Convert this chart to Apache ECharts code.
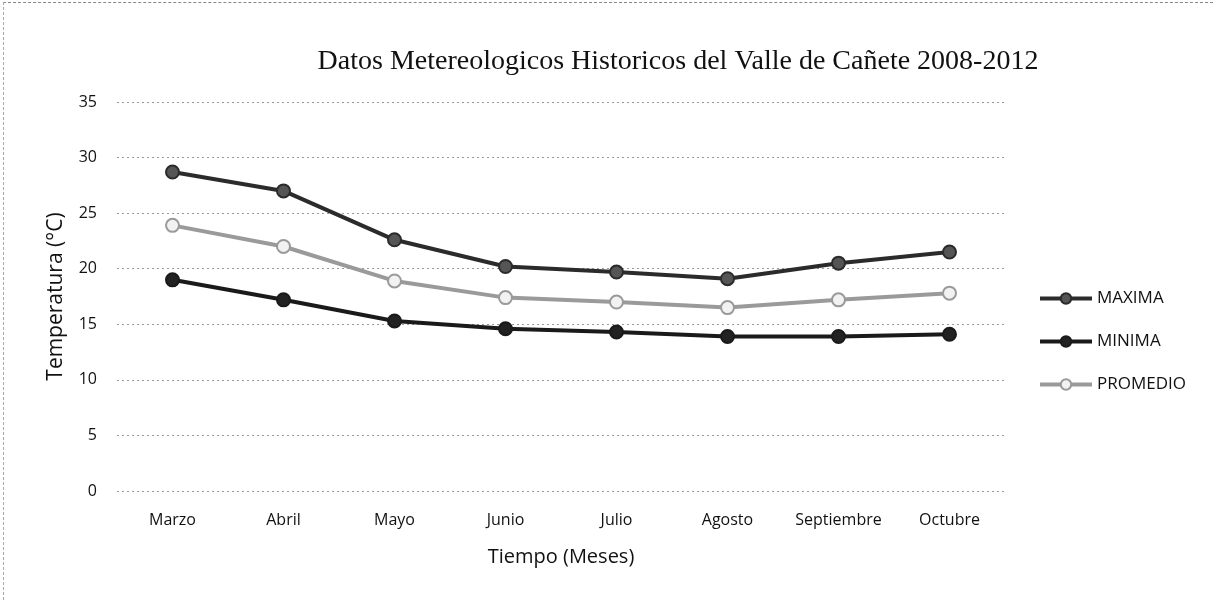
<!DOCTYPE html>
<html><head><meta charset="utf-8">
<script src="https://cdn.jsdelivr.net/npm/echarts@6/dist/echarts.min.js"></script>
<style>html,body{margin:0;padding:0;background:#fff}#c{position:absolute;left:3px;top:2px;width:1210px;height:598px;border-top:1px dashed #888;border-left:1px dashed #aaa;box-sizing:border-box}</style>
</head><body><div id="c"></div>
<script>
const months = ['Marzo','Abril','Mayo','Junio','Julio','Agosto','Septiembre','Octubre'];
const maxima = [28.7, 27.0, 22.6, 20.2, 19.7, 19.1, 20.5, 21.5];
const minima = [19.0, 17.2, 15.3, 14.6, 14.3, 13.9, 13.9, 14.1];
const promedio = [23.9, 22.0, 18.9, 17.4, 17.0, 16.5, 17.2, 17.8];
const seriesNames = ['MAXIMA','MINIMA','PROMEDIO'];
const title = 'Datos Metereologicos Historicos del Valle de Cañete 2008-2012';

const chart = echarts.init(document.getElementById('c'));
const font = 'Open Sans';
function mk(name, data, lineColor, fill){
  return {name, type:'line', data, symbol:'circle', symbolSize:13,
    lineStyle:{color:lineColor, width:4},
    itemStyle:{color:fill, borderColor:lineColor, borderWidth:2}};
}
chart.setOption({
  animation:false,
  title:{text:title, left:669, top:40, textAlign:'center',
    textStyle:{fontFamily:'Liberation Serif', fontSize:28, fontWeight:'normal', color:'#111'}},
  grid:{left:113, right:208, top:99, bottom:109},
  legend:{orient:'vertical', left:1034, top:287, padding:0, itemGap:26, itemWidth:52, itemHeight:13,
    data:seriesNames, lineStyle:{width:4},
    textStyle:{fontFamily:font, fontSize:17, color:'#111'}},
  xAxis:{type:'category', data:months, boundaryGap:true,
    name:'Tiempo (Meses)', nameLocation:'middle', nameGap:56,
    nameTextStyle:{fontFamily:font, fontSize:20, color:'#111'},
    axisLine:{show:false}, axisTick:{show:false},
    axisLabel:{interval:0, fontFamily:font, fontSize:16, color:'#111', margin:21}},
  yAxis:{type:'value', min:0, max:35, interval:5,
    name:'Temperatura (°C)', nameLocation:'middle', nameGap:50,
    nameTextStyle:{fontFamily:font, fontSize:21, color:'#111'},
    axisLine:{show:false}, axisTick:{show:false},
    axisLabel:{fontFamily:font, fontSize:16, color:'#111', margin:20},
    splitLine:{lineStyle:{color:'#999', type:[2,3], width:1}}},
  series:[
    mk(seriesNames[0], maxima, '#2b2b2b', '#555'),
    mk(seriesNames[1], minima, '#1a1a1a', '#222'),
    mk(seriesNames[2], promedio, '#9a9a9a', '#f2f2f2')
  ]
});
</script></body></html>
